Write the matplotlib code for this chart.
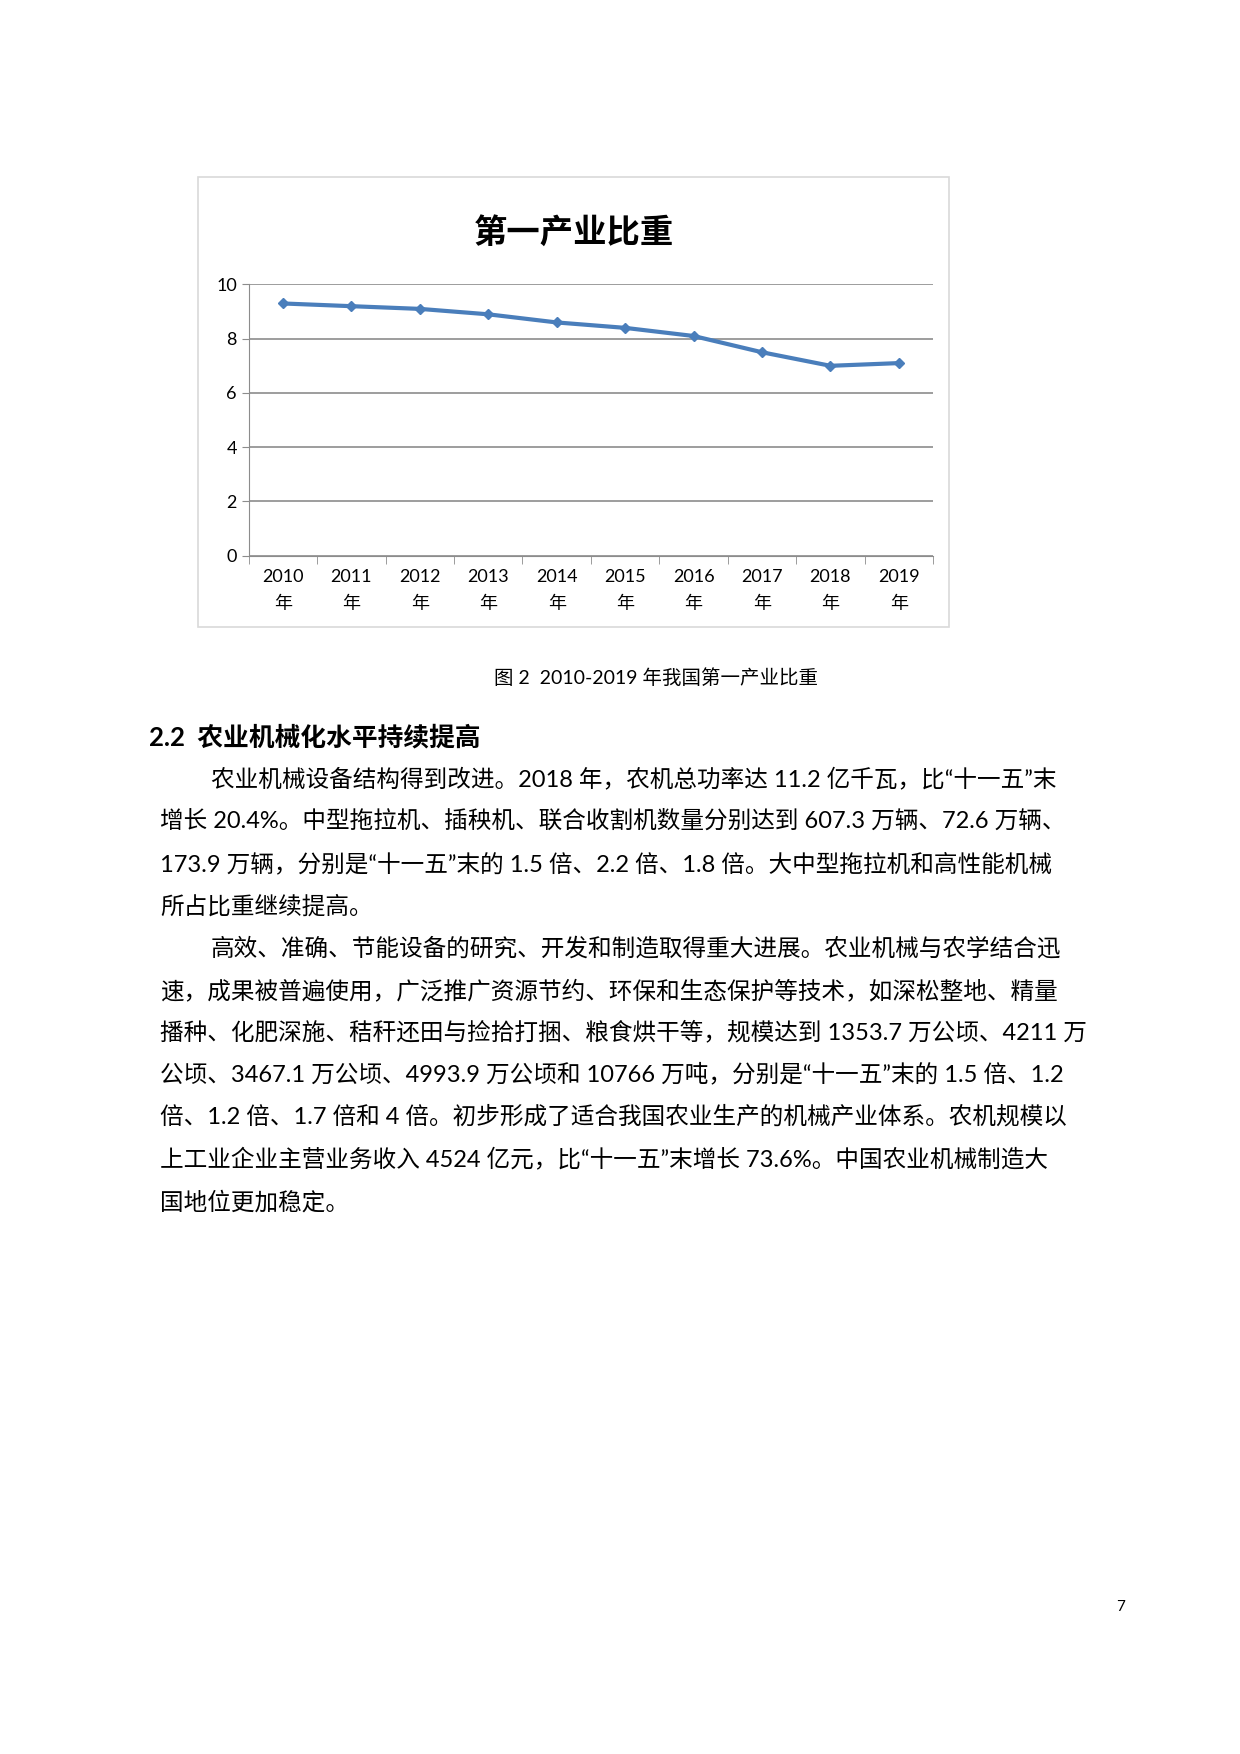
import matplotlib
matplotlib.use("Agg")
import matplotlib.pyplot as plt
from matplotlib.patches import Rectangle
import numpy as np

plt.rcParams['font.family'] = ['Lato', 'Noto Sans CJK SC', 'DejaVu Sans']

years = ['2010', '2011', '2012', '2013', '2014', '2015', '2016', '2017', '2018', '2019']
share = [9.3, 9.2, 9.1, 8.9, 8.6, 8.4, 8.1, 7.5, 7.0, 7.1]
yticks = [0, 2, 4, 6, 8, 10]
title = '第一产业比重'
caption = '图 2  2010-2019 年我国第一产业比重'
heading = '2.2  农业机械化水平持续提高'
body = [
    (True, '农业机械设备结构得到改进。2018 年，农机总功率达 11.2 亿千瓦，比“十一五”末'),
    (False, '增长 20.4%。中型拖拉机、插秧机、联合收割机数量分别达到 607.3 万辆、72.6 万辆、'),
    (False, '173.9 万辆，分别是“十一五”末的 1.5 倍、2.2 倍、1.8 倍。大中型拖拉机和高性能机械'),
    (False, '所占比重继续提高。'),
    (True, '高效、准确、节能设备的研究、开发和制造取得重大进展。农业机械与农学结合迅'),
    (False, '速，成果被普遍使用，广泛推广资源节约、环保和生态保护等技术，如深松整地、精量'),
    (False, '播种、化肥深施、秸秆还田与捡拾打捆、粮食烘干等，规模达到 1353.7 万公顷、4211 万'),
    (False, '公顷、3467.1 万公顷、4993.9 万公顷和 10766 万吨，分别是“十一五”末的 1.5 倍、1.2'),
    (False, '倍、1.2 倍、1.7 倍和 4 倍。初步形成了适合我国农业生产的机械产业体系。农机规模以'),
    (False, '上工业企业主营业务收入 4524 亿元，比“十一五”末增长 73.6%。中国农业机械制造大'),
    (False, '国地位更加稳定。'),
]
body_y = [695, 733, 771, 809, 847, 885, 921, 959, 997, 1035, 1073]

W, H = 1107, 1566
fig = plt.figure(figsize=(12.4, 17.54), dpi=100)
fig.patch.set_facecolor('white')

fig.patches.append(Rectangle((177 / W, 1 - 560 / H), (847 - 177) / W, (560 - 158) / H,
                             transform=fig.transFigure, fill=False, edgecolor='#d9d9d9', lw=1.2))
fig.text(512 / W, 1 - 207 / H, title, ha='center', va='center', fontsize=24, fontweight='bold')

ax = fig.add_axes([222 / W, 1 - 496 / H, (833 - 222) / W, (496 - 254) / H])
x = np.arange(len(years))
ax.plot(x, share, color='#4a7ebb', lw=3, marker='D', ms=5)
ax.set_xlim(-0.5, len(years) - 0.5)
ax.set_ylim(0, 10)
ax.set_yticks(yticks)
ax.grid(axis='y', color='#8c8c8c', lw=1.2)
ax.set_axisbelow(True)
for s in ['top', 'right']:
    ax.spines[s].set_visible(False)
ax.spines['left'].set_color('#8c8c8c')
ax.spines['bottom'].set_color('#8c8c8c')
ax.set_xticks(x)
ax.set_xticklabels([f'{y}\n年' for y in years], fontsize=13, linespacing=1.75)
ax.set_xticks(np.arange(-0.5, len(years)), minor=True)
ax.tick_params(axis='x', which='major', length=0, pad=10)
ax.tick_params(axis='x', which='minor', length=6, color='#8c8c8c')
ax.tick_params(axis='y', length=5, color='#8c8c8c', labelsize=13)

fig.text(586 / W, 1 - 605 / H, caption, ha='center', va='center', fontsize=14)
fig.text(133 / W, 1 - 658 / H, heading, ha='left', va='center', fontsize=18.5, fontweight='bold')
for (indent, line), yy in zip(body, body_y):
    fig.text((188 if indent else 143) / W, 1 - yy / H, line, ha='left', va='center', fontsize=17)
fig.text(1000 / W, 1 - 1435 / H, '7', ha='center', va='center', fontsize=11)

fig.savefig('out.png', dpi=100)
